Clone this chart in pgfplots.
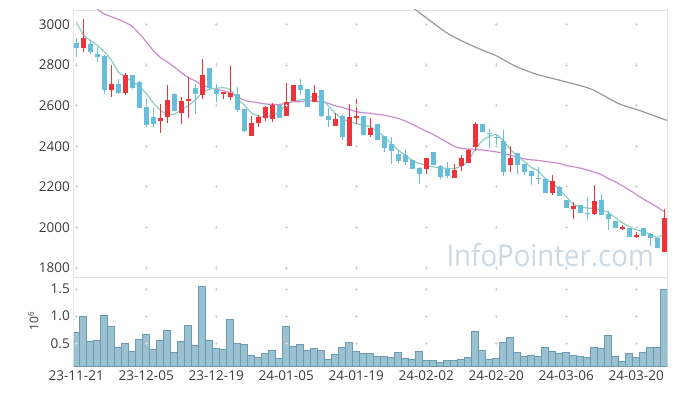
\documentclass[border=0pt]{standalone}
\usepackage{pgfplots}
\pgfplotsset{compat=1.18}
\usepackage{pgfplotstable}
\usepackage{fontspec}
\setmainfont{Open Sans}
\definecolor{upred}{RGB}{238,52,58}
\definecolor{dnblue}{RGB}{104,190,216}
\definecolor{maA}{RGB}{140,205,196}
\definecolor{maB}{RGB}{204,140,204}
\definecolor{maC}{RGB}{152,152,152}
\definecolor{volfill}{RGB}{155,192,208}
\definecolor{voledge}{RGB}{105,155,180}
\definecolor{framec}{RGB}{226,226,226}
\definecolor{gridc}{RGB}{215,215,215}
\definecolor{txt}{RGB}{60,60,60}
\definecolor{wm}{RGB}{203,217,228}

\pgfplotstableread{
i o h l c
1 2885 3025 2865 2933
5 2677 2800 2641 2706
7 2663 2762 2652 2751
12 2525 2608 2466 2540
13 2545 2701 2512 2627
15 2562 2644 2508 2624
16 2624 2742 2540 2632
18 2652 2828 2631 2751
21 2655 2668 2631 2665
22 2641 2795 2630 2663
25 2451 2550 2451 2515
26 2512 2553 2493 2545
27 2540 2598 2525 2591
28 2532 2611 2520 2603
30 2550 2713 2548 2616
31 2624 2703 2622 2701
34 2619 2701 2616 2660
37 2501 2565 2499 2534
39 2402 2606 2400 2545
40 2540 2631 2508 2548
42 2455 2540 2446 2491
50 2286 2340 2261 2340
54 2241 2310 2241 2282
55 2304 2356 2279 2343
56 2318 2384 2318 2381
57 2397 2517 2376 2509
62 2307 2402 2275 2343
68 2170 2256 2159 2228
71 2090 2124 2039 2105
74 2065 2207 2062 2131
78 1991 2011 1986 2000
80 1955 1978 1948 1962
84 1879 2092 1879 2047
}\upc

\pgfplotstableread{
i o h l c
0 2910 2931 2841 2885
2 2905 2923 2853 2865
3 2856 2890 2816 2841
4 2844 2849 2657 2677
6 2706 2729 2657 2663
8 2751 2751 2680 2688
9 2718 2720 2587 2589
10 2593 2636 2496 2504
11 2542 2586 2493 2509
14 2655 2660 2572 2575
17 2685 2706 2560 2658
19 2784 2786 2677 2688
20 2677 2705 2619 2655
23 2657 2690 2570 2578
24 2581 2583 2471 2476
29 2603 2605 2538 2540
32 2701 2729 2652 2677
33 2682 2684 2594 2594
35 2677 2679 2545 2550
36 2548 2586 2496 2529
38 2550 2552 2430 2446
41 2548 2550 2455 2455
43 2508 2510 2430 2430
44 2450 2452 2372 2392
45 2410 2446 2310 2376
46 2360 2381 2315 2327
47 2356 2381 2307 2320
48 2331 2333 2287 2287
49 2294 2296 2212 2262
51 2369 2369 2307 2307
52 2304 2306 2236 2249
53 2286 2320 2241 2253
58 2509 2511 2471 2471
59 2463 2484 2392 2458
60 2447 2457 2398 2442
61 2425 2479 2253 2274
63 2365 2367 2261 2307
64 2310 2312 2258 2274
65 2277 2279 2208 2253
66 2244 2299 2212 2236
67 2240 2242 2170 2170
69 2200 2202 2154 2154
70 2134 2136 2094 2095
72 2108 2110 2072 2072
73 2072 2148 2036 2066
75 2134 2166 2060 2060
76 2065 2080 1986 2041
77 2031 2033 1998 1998
79 1995 1997 1953 1953
81 1995 1997 1958 1958
82 1965 1970 1908 1946
83 1946 1948 1896 1896
}\dnc

\pgfplotstableread{
i v
0 0.70
1 1.00
2 0.54
3 0.56
4 1.02
5 0.81
6 0.43
7 0.50
8 0.36
9 0.57
10 0.67
11 0.38
12 0.56
13 0.74
14 0.33
15 0.54
16 0.83
17 0.46
18 1.55
19 0.56
20 0.41
21 0.39
22 0.94
23 0.50
24 0.48
25 0.28
26 0.24
27 0.32
28 0.37
29 0.22
30 0.81
31 0.44
32 0.48
33 0.37
34 0.41
35 0.37
36 0.20
37 0.30
38 0.43
39 0.52
40 0.35
41 0.32
42 0.32
43 0.26
44 0.26
45 0.24
46 0.33
47 0.22
48 0.20
49 0.35
50 0.19
51 0.19
52 0.15
53 0.19
54 0.19
55 0.20
56 0.24
57 0.72
58 0.37
59 0.20
60 0.22
61 0.52
62 0.61
63 0.33
64 0.26
65 0.28
66 0.26
67 0.43
68 0.35
69 0.32
70 0.33
71 0.28
72 0.26
73 0.24
74 0.43
75 0.41
76 0.65
77 0.26
78 0.17
79 0.32
80 0.24
81 0.33
82 0.43
83 0.43
84 1.50
}\vol

\begin{document}
\begin{tikzpicture}
\path[use as bounding box] (0pt,0pt) rectangle (677pt,396pt);
\begin{axis}[
  at={(73.3pt,118.7pt)}, anchor=south west, scale only axis,
  width=594.4pt, height=267.3pt,
  xmin=-0.414, xmax=84.5, ymin=1754, ymax=3071,
  xtick={0,10,...,80}, xticklabels={},
  ytick={1800,2000,...,3000},
  major tick length=0pt,
  axis line style={framec, line width=0.8pt},
  tick label style={font=\fontsize{13.5}{16}\selectfont, color=txt},
  /pgf/number format/assume math mode=true,
  /pgf/number format/1000 sep={},
]
\node[anchor=base, text=wm, font=\fontsize{30}{30}\selectfont, xscale=0.92] at (axis cs:67.7,1806) {InfoPointer.com};
\addplot[only marks, mark=+, mark size=1.6pt, mark options={gridc, line width=0.6pt}] coordinates {
(0,1800)(10,1800)(20,1800)(30,1800)(40,1800)(50,1800)(60,1800)(70,1800)(80,1800)
(0,2000)(10,2000)(20,2000)(30,2000)(40,2000)(50,2000)(60,2000)(70,2000)(80,2000)
(0,2200)(10,2200)(20,2200)(30,2200)(40,2200)(50,2200)(60,2200)(70,2200)(80,2200)
(0,2400)(10,2400)(20,2400)(30,2400)(40,2400)(50,2400)(60,2400)(70,2400)(80,2400)
(0,2600)(10,2600)(20,2600)(30,2600)(40,2600)(50,2600)(60,2600)(70,2600)(80,2600)
(0,2800)(10,2800)(20,2800)(30,2800)(40,2800)(50,2800)(60,2800)(70,2800)(80,2800)
(0,3000)(10,3000)(20,3000)(30,3000)(40,3000)(50,3000)(60,3000)(70,3000)(80,3000)
};
% moving averages
\addplot[maC, line width=1.2pt, smooth, tension=0.4] coordinates {
(48.0,3085)(49.8,3038)(52.7,2964)(54.6,2927)(57.4,2882)(59.8,2849)(62.7,2795)(65.7,2755)(69.5,2721)(73.6,2681)(77.4,2611)(80.3,2578)(84.4,2527)
};
\addplot[maB, line width=1.2pt, smooth, tension=0.4] coordinates {
(3,3075)(4,3052)(5,3038)(6,3025)(7,3010)(8,2990)(9,2955)(10,2915)(11,2872)(12,2838)(13,2816)(14,2790)(15,2763)(16,2738)(17,2722)
(18,2701)(19,2690)(20,2680)(21,2673)(22,2663)(23,2644)(24,2627)(25,2619)(26,2614)(27,2608)(28,2606)(29,2606)(30,2611)(31,2619)(32,2619)
(33,2624)(34,2622)(35,2619)(36,2611)(37,2599)(38,2591)(39,2581)(40,2570)(41,2565)(42,2562)(43,2557)(44,2553)(45,2545)(46,2537)(47,2524)
(48,2508)(49,2491)(50,2474)(51,2458)(52,2438)(53,2419)(54,2400)(55,2389)(56,2386)(57,2384)(58,2381)(59,2377)(60,2372)(61,2365)(62,2355)
(63,2347)(64,2338)(65,2333)(66,2330)(67,2325)(68,2320)(69,2315)(70,2305)(71,2299)(72,2292)(73,2283)(74,2272)(75,2260)(76,2240)(77,2225)
(78,2205)(79,2185)(80,2162)(81,2140)(82,2120)(83,2100)(84,2077)
};
\addplot[maA, line width=1.2pt, smooth, tension=0.4] coordinates {
(0,3013)(1,2950)(2,2920)(3,2898)(4,2865)(5,2825)(6,2767)(7,2742)(8,2718)(9,2696)(10,2660)(11,2614)(12,2578)(13,2557)(14,2558)
(15,2578)(16,2600)(17,2627)(18,2663)(19,2680)(20,2685)(21,2688)(22,2680)(23,2636)(24,2603)(25,2565)(26,2548)(27,2545)(28,2553)
(29,2570)(30,2603)(31,2624)(32,2627)(33,2634)(34,2649)(35,2636)(36,2599)(37,2562)(38,2537)(39,2520)(40,2512)(41,2504)(42,2496)
(43,2474)(44,2446)(45,2414)(46,2381)(47,2356)(48,2331)(49,2315)(50,2307)(51,2298)(52,2294)(53,2290)(54,2290)(55,2302)(56,2327)
(57,2385)(58,2426)(59,2448)(60,2457)(61,2428)(62,2385)(63,2352)(64,2325)(65,2296)(66,2278)(67,2241)(68,2218)(69,2188)(70,2151)
(71,2114)(72,2101)(73,2095)(74,2093)(75,2086)(76,2073)(77,2048)(78,2023)(79,2004)(80,1988)(81,1978)(82,1967)(83,1951)(84,1967)
};
% candles: wicks then bodies
\addplot[dnblue, line width=1pt, quiver={u=0, v=\thisrow{h}-\thisrow{l}}] table[x=i, y=l] {\dnc};
\addplot[dnblue, line width=5pt, quiver={u=0, v=\thisrow{c}-\thisrow{o}}] table[x=i, y=o] {\dnc};
\addplot[upred, line width=1pt, quiver={u=0, v=\thisrow{h}-\thisrow{l}}] table[x=i, y=l] {\upc};
\addplot[upred, line width=5pt, quiver={u=0, v=\thisrow{c}-\thisrow{o}}] table[x=i, y=o] {\upc};
\end{axis}

\begin{axis}[
  at={(73.3pt,29.3pt)}, anchor=south west, scale only axis,
  width=594.4pt, height=89.4pt,
  xmin=-0.414, xmax=84.5, ymin=0.068, ymax=1.718,
  xtick={0,10,...,80},
  xticklabels={23-11-21,23-12-05,23-12-19,24-01-05,24-01-19,24-02-02,24-02-20,24-03-06,24-03-20},
  ytick={0.5,1.0,1.5},
  yticklabel style={/pgf/number format/.cd, fixed, fixed zerofill, precision=1},
  major tick length=0pt,
  axis line style={draw=none},
  tick label style={font=\fontsize{13.5}{16}\selectfont, color=txt},
  /pgf/number format/assume math mode=true,
  ylabel={10\textsuperscript{6}},
  ylabel style={at={(axis description cs:-0.0673,0.51)}, anchor=center, font=\fontsize{12}{14}\selectfont, color=txt},
]
\addplot[only marks, mark=+, mark size=1.6pt, mark options={gridc, line width=0.6pt}] coordinates {
(0,0.5)(10,0.5)(20,0.5)(30,0.5)(40,0.5)(50,0.5)(60,0.5)(70,0.5)(80,0.5)
(0,1.0)(10,1.0)(20,1.0)(30,1.0)(40,1.0)(50,1.0)(60,1.0)(70,1.0)(80,1.0)
(0,1.5)(10,1.5)(20,1.5)(30,1.5)(40,1.5)(50,1.5)(60,1.5)(70,1.5)(80,1.5)
};
\addplot[ybar, bar width=1, bar shift=0pt, fill=volfill, draw=voledge, line width=0.6pt] table[x=i, y=v] {\vol};
\draw[framec, line width=0.8pt] (rel axis cs:0,0) -- (rel axis cs:0,1) -- (rel axis cs:1,1) -- (rel axis cs:1,0);
\end{axis}
\end{tikzpicture}
\end{document}
